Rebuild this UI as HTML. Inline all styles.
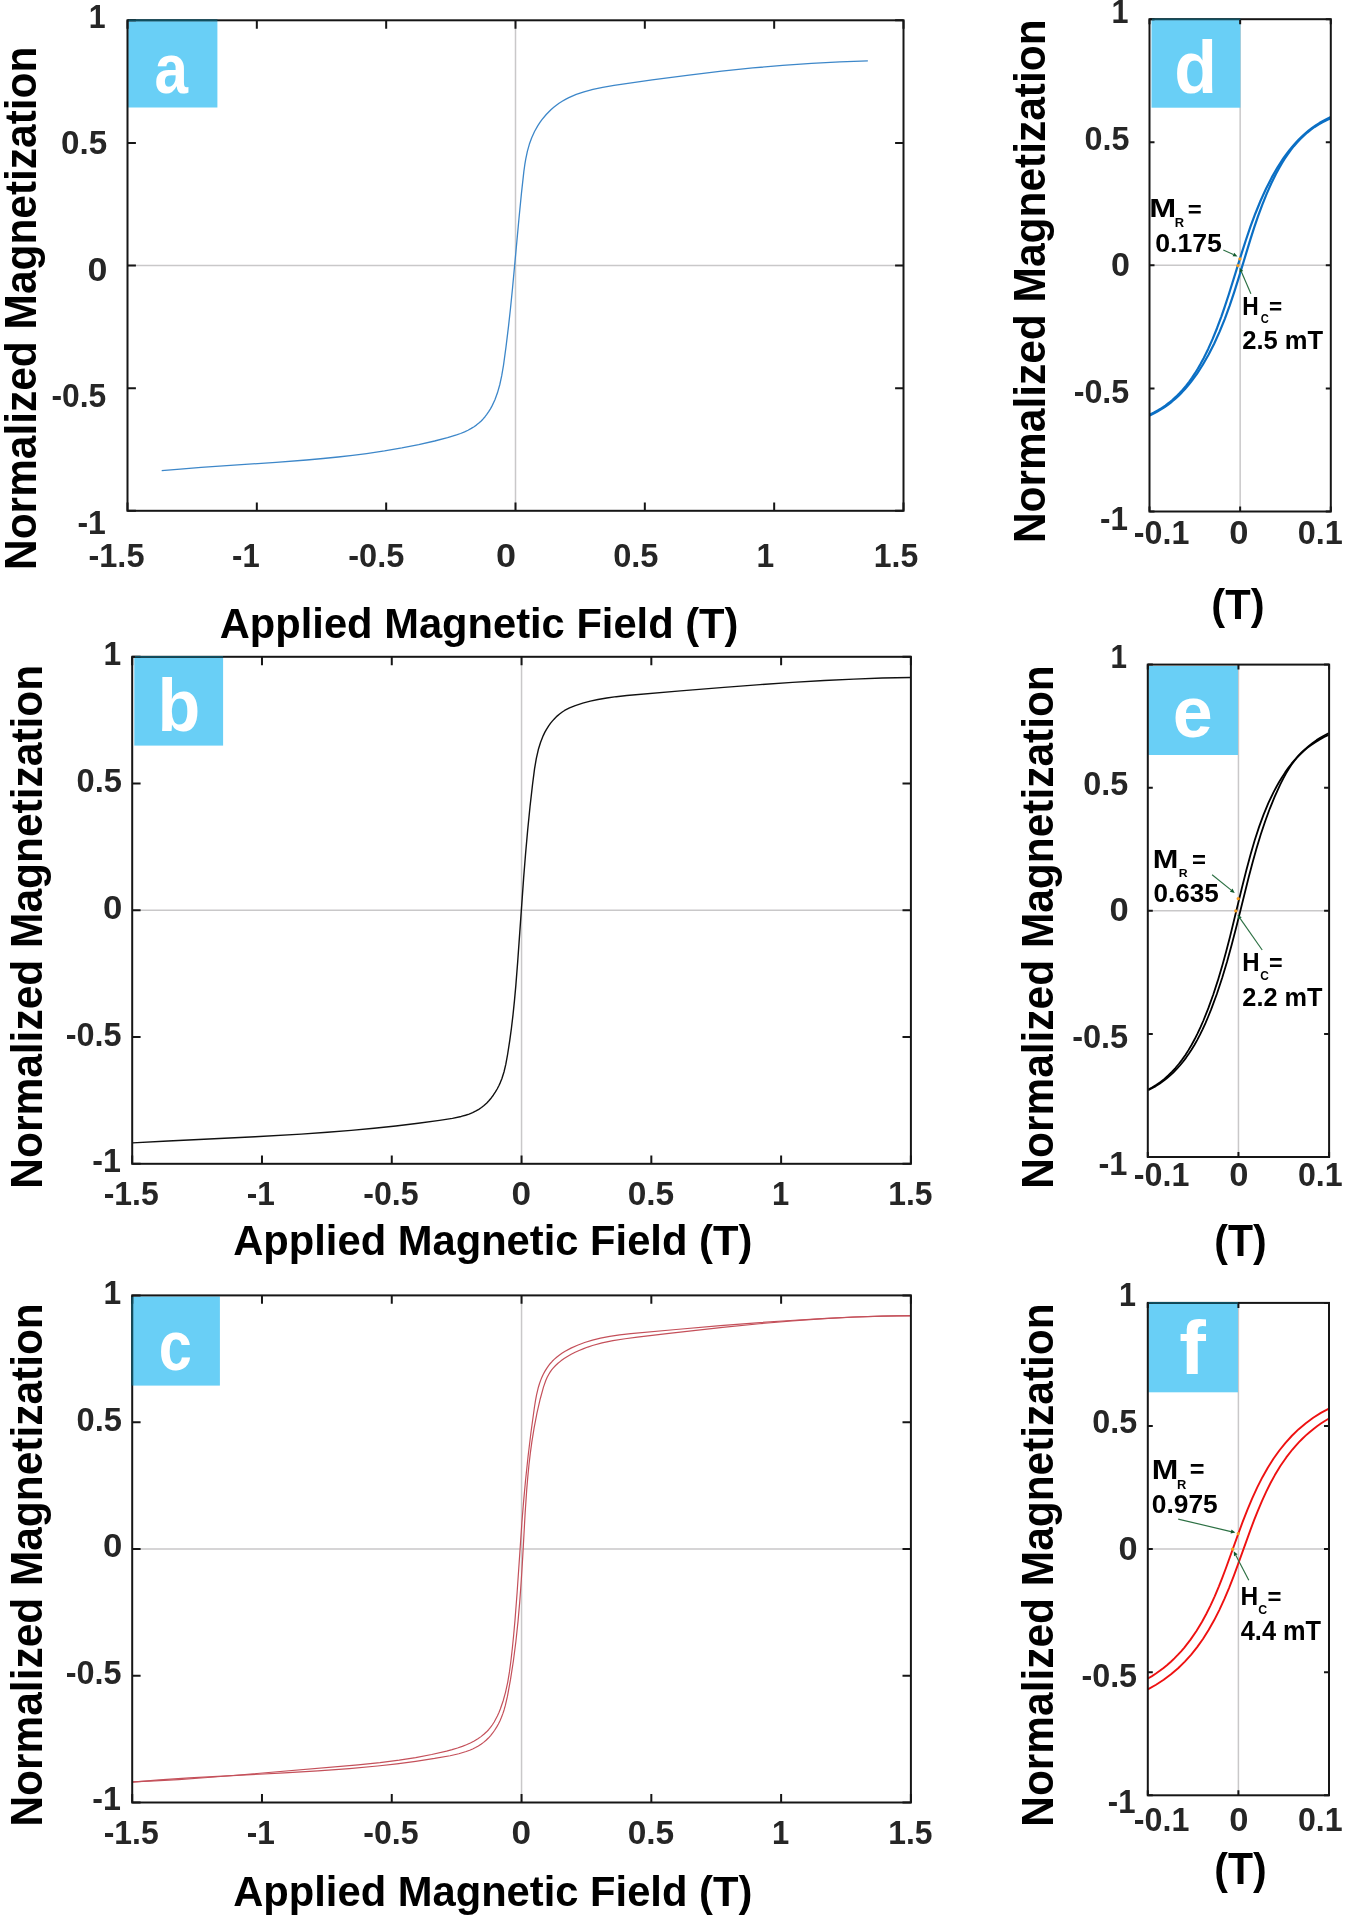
<!DOCTYPE html>
<html><head><meta charset="utf-8"><style>
html,body{margin:0;padding:0;background:#fff;}
svg{display:block;will-change:transform;}
text{font-kerning:none;font-variant-ligatures:none;}
</style></head><body>
<svg width="1345" height="1917" viewBox="0 0 1345 1917" font-family="Liberation Sans, sans-serif" font-weight="bold">
<rect width="1345" height="1917" fill="#fff"/>
<path d="M127.50,265.55H903.50M515.50,20.30V510.80" stroke="#c9c8c9" stroke-width="1.5" fill="none"/>
<path d="M132.20,910.30H910.90M521.55,656.80V1163.80" stroke="#c9c8c9" stroke-width="1.5" fill="none"/>
<path d="M132.20,1548.95H910.90M521.55,1295.40V1802.50" stroke="#c9c8c9" stroke-width="1.5" fill="none"/>
<path d="M1149.50,265.35H1330.80M1240.15,19.20V511.50" stroke="#c9c8c9" stroke-width="1.5" fill="none"/>
<path d="M1147.80,910.80H1329.10M1238.45,664.60V1157.00" stroke="#c9c8c9" stroke-width="1.5" fill="none"/>
<path d="M1147.80,1549.10H1329.00M1238.40,1302.90V1795.30" stroke="#c9c8c9" stroke-width="1.5" fill="none"/>
<path d="M161.71,470.71 L180.22,469.03 L201.15,467.38 L276.03,462.31 L306.60,459.98 L323.08,458.52 L338.09,457.00 L352.61,455.35 L366.63,453.54 L384.50,450.90 L401.87,447.91 L418.73,444.58 L434.61,441.00 L447.57,437.70 L456.50,434.98 L460.59,433.49 L464.58,431.84 L468.00,430.22 L471.30,428.42 L474.07,426.70 L476.35,425.10 L478.89,423.07 L480.95,421.20 L482.91,419.19 L485.06,416.71 L486.79,414.46 L488.69,411.71 L490.45,408.84 L492.07,405.88 L494.93,399.71 L497.46,392.83 L499.76,384.75 L501.68,375.98 L503.52,365.07 L505.97,347.20 L508.47,326.63 L510.50,308.23 L512.54,288.03 L518.95,218.81 L521.44,193.40 L523.84,171.63 L524.80,164.72 L525.78,158.84 L527.42,151.12 L529.40,144.06 L531.71,137.67 L534.53,131.51 L537.86,125.62 L539.97,122.40 L541.95,119.67 L546.23,114.51 L550.91,109.77 L553.76,107.27 L556.36,105.21 L559.03,103.29 L562.20,101.25 L565.46,99.36 L568.82,97.64 L572.26,96.05 L576.23,94.43 L583.98,91.77 L592.96,89.35 L602.67,87.29 L614.05,85.36 L652.12,79.96 L689.01,75.11 L721.66,71.22 L752.77,67.97 L782.53,65.34 L811.55,63.29 L839.96,61.79 L867.85,60.85" stroke="#3d87c9" stroke-width="1.3" fill="none" stroke-linejoin="round" stroke-linecap="butt" />
<path d="M132.65,1142.88 L168.11,1141.00 L255.13,1136.75 L301.21,1134.10 L327.30,1132.29 L351.19,1130.37 L374.02,1128.27 L395.78,1125.96 L418.17,1123.26 L439.52,1120.34 L452.44,1118.32 L461.22,1116.45 L465.48,1115.26 L469.10,1114.04 L472.61,1112.62 L476.00,1110.97 L478.78,1109.35 L481.46,1107.53 L484.01,1105.51 L486.83,1102.92 L489.10,1100.51 L491.25,1097.94 L493.27,1095.24 L495.44,1091.94 L497.16,1089.00 L498.98,1085.46 L500.39,1082.36 L501.85,1078.68 L504.05,1071.73 L505.84,1064.13 L507.63,1054.25 L509.77,1040.44 L511.42,1028.24 L513.00,1014.87 L514.44,1000.92 L515.76,986.38 L517.73,961.21 L523.64,877.91 L525.63,852.98 L527.66,830.20 L530.01,806.73 L532.56,784.21 L534.54,768.93 L536.33,758.30 L538.33,749.57 L540.60,742.19 L543.24,735.60 L544.90,732.18 L546.48,729.33 L548.51,726.10 L550.42,723.43 L552.49,720.87 L554.71,718.42 L557.08,716.12 L559.59,713.97 L562.26,711.99 L564.58,710.49 L569.52,707.90 L575.25,705.58 L582.73,703.15 L590.31,701.13 L597.96,699.48 L606.78,697.96 L616.22,696.68 L626.83,695.56 L680.51,690.92 L723.99,687.34 L760.17,684.58 L792.46,682.37 L824.22,680.50 L853.80,679.09 L882.32,678.07 L910.37,677.45" stroke="#111111" stroke-width="1.4" fill="none" stroke-linejoin="round" stroke-linecap="butt" />
<path d="M132.22,1781.91 L154.82,1780.90 L178.59,1779.54 L204.62,1777.76 L233.45,1775.52 L358.09,1764.78 L380.00,1762.55 L399.19,1760.12 L415.67,1757.54 L431.66,1754.51 L446.60,1751.10 L452.09,1749.63 L457.50,1748.00 L462.27,1746.35 L466.39,1744.73 L470.38,1742.93 L474.23,1740.94 L477.91,1738.74 L480.98,1736.62 L483.88,1734.31 L486.61,1731.80 L488.80,1729.47 L490.51,1727.40 L492.42,1724.77 L494.19,1721.99 L497.35,1716.08 L498.97,1712.47 L500.44,1708.77 L503.18,1700.73 L505.56,1692.09 L507.69,1682.30 L509.44,1671.90 L510.77,1662.01 L512.28,1648.79 L513.67,1635.00 L515.00,1620.09 L517.12,1592.43 L521.87,1522.82 L523.61,1501.37 L525.48,1481.04 L528.08,1456.29 L530.95,1432.55 L534.46,1406.99 L535.52,1400.31 L536.56,1394.79 L538.38,1387.20 L539.52,1383.49 L540.63,1380.36 L541.89,1377.29 L543.29,1374.30 L544.85,1371.39 L546.56,1368.58 L548.43,1365.89 L550.10,1363.74 L552.26,1361.29 L554.18,1359.36 L556.62,1357.20 L559.21,1355.18 L561.90,1353.30 L564.70,1351.54 L570.98,1348.14 L577.47,1345.21 L584.63,1342.54 L592.49,1340.15 L600.51,1338.20 L609.76,1336.43 L619.69,1334.95 L630.84,1333.66 L676.05,1329.52 L720.29,1325.70 L756.61,1322.84 L790.14,1320.51 L822.07,1318.63 L852.45,1317.21 L881.89,1316.22 L910.43,1315.65" stroke="#c4505a" stroke-width="1.2" fill="none" stroke-linejoin="round" stroke-linecap="butt" />
<path d="M132.67,1782.13 L159.40,1779.94 L189.36,1777.94 L217.57,1776.36 L284.32,1772.96 L317.94,1770.95 L349.36,1768.62 L377.52,1765.98 L396.87,1763.79 L415.70,1761.31 L434.57,1758.45 L450.11,1755.73 L458.81,1753.75 L466.16,1751.55 L469.71,1750.23 L472.67,1748.96 L475.55,1747.55 L478.34,1746.00 L481.02,1744.28 L483.60,1742.38 L486.07,1740.30 L488.41,1738.03 L490.62,1735.58 L492.71,1732.98 L494.65,1730.24 L496.76,1726.91 L498.40,1723.95 L500.14,1720.41 L501.47,1717.32 L502.86,1713.66 L504.07,1709.95 L505.29,1705.67 L507.42,1696.43 L510.53,1679.42 L513.41,1660.75 L515.89,1641.51 L518.05,1621.15 L519.78,1601.32 L521.33,1579.80 L522.62,1558.81 L525.15,1512.85 L526.72,1489.60 L527.79,1476.88 L528.98,1464.73 L530.33,1453.16 L531.82,1442.16 L534.20,1427.34 L536.95,1413.13 L540.22,1398.98 L543.46,1387.09 L545.87,1380.31 L547.19,1377.32 L548.69,1374.44 L550.10,1372.15 L551.65,1369.95 L553.36,1367.87 L555.58,1365.50 L557.98,1363.28 L560.96,1360.85 L564.11,1358.60 L567.37,1356.51 L571.21,1354.31 L575.13,1352.29 L579.11,1350.44 L583.67,1348.57 L587.79,1347.06 L592.48,1345.52 L602.06,1342.94 L612.93,1340.67 L625.08,1338.74 L637.34,1337.16 L669.09,1333.47 L722.63,1327.47 L759.42,1323.73 L792.34,1320.84 L824.24,1318.55 L854.07,1316.99 L882.42,1316.08 L896.40,1315.87 L910.44,1315.81" stroke="#c4505a" stroke-width="1.2" fill="none" stroke-linejoin="round" stroke-linecap="butt" />
<path d="M1149.51,414.67 L1153.60,412.70 L1157.69,410.48 L1161.61,408.09 L1165.36,405.54 L1169.09,402.73 L1172.66,399.77 L1176.07,396.66 L1179.45,393.29 L1182.79,389.65 L1185.97,385.87 L1189.11,381.83 L1192.10,377.65 L1195.04,373.22 L1197.93,368.53 L1200.77,363.58 L1203.64,358.22 L1208.22,348.90 L1212.67,338.90 L1217.00,328.24 L1221.34,316.58 L1224.95,306.17 L1228.78,294.49 L1240.98,255.34 L1245.67,240.76 L1250.54,226.48 L1255.28,213.71 L1260.55,200.79 L1266.02,188.74 L1271.78,177.41 L1277.57,167.30 L1283.31,158.44 L1286.22,154.37 L1289.25,150.40 L1292.30,146.67 L1295.35,143.19 L1298.53,139.82 L1301.84,136.57 L1305.14,133.57 L1308.58,130.69 L1312.14,127.94 L1315.70,125.44 L1319.38,123.07 L1323.03,120.93 L1326.81,118.92 L1330.72,117.06" stroke="#0b6fc4" stroke-width="2.2" fill="none" stroke-linejoin="round" stroke-linecap="butt" />
<path d="M1149.77,415.41 L1153.64,413.56 L1157.39,411.56 L1161.01,409.42 L1164.66,407.05 L1168.18,404.54 L1171.72,401.78 L1175.13,398.89 L1178.41,395.87 L1181.69,392.61 L1184.85,389.23 L1188.00,385.59 L1191.03,381.85 L1196.94,373.79 L1202.77,364.77 L1208.65,354.51 L1214.27,343.48 L1219.62,331.67 L1224.83,318.80 L1229.49,306.09 L1234.21,292.05 L1238.76,277.58 L1250.63,238.58 L1254.38,226.93 L1257.98,216.39 L1262.33,204.60 L1266.76,193.63 L1271.35,183.30 L1276.03,173.79 L1278.92,168.40 L1281.79,163.43 L1284.72,158.72 L1287.70,154.27 L1290.74,150.10 L1293.82,146.19 L1297.06,142.42 L1300.35,138.93 L1303.79,135.59 L1307.27,132.52 L1310.92,129.62 L1314.59,126.98 L1318.43,124.52 L1322.44,122.23 L1326.46,120.21 L1330.65,118.36" stroke="#0b6fc4" stroke-width="2.2" fill="none" stroke-linejoin="round" stroke-linecap="butt" />
<path d="M1148.18,1089.66 L1152.44,1087.32 L1156.51,1084.78 L1160.56,1081.92 L1164.41,1078.86 L1168.22,1075.48 L1171.84,1071.92 L1175.42,1068.03 L1178.80,1063.97 L1182.14,1059.59 L1185.42,1054.90 L1188.62,1049.89 L1191.66,1044.75 L1194.62,1039.30 L1197.61,1033.38 L1200.52,1027.17 L1203.43,1020.50 L1208.36,1008.13 L1213.27,994.51 L1217.88,980.40 L1222.45,965.04 L1226.16,951.58 L1230.01,936.68 L1241.87,888.07 L1246.27,870.59 L1250.63,854.32 L1254.71,840.32 L1259.08,826.88 L1263.57,814.63 L1268.32,803.22 L1273.33,792.65 L1276.19,787.22 L1279.10,782.06 L1282.05,777.17 L1285.17,772.39 L1288.34,767.89 L1291.54,763.67 L1294.78,759.74 L1298.17,755.94 L1301.59,752.43 L1305.16,749.06 L1308.90,745.84 L1312.66,742.91 L1316.57,740.13 L1320.66,737.52 L1324.74,735.19 L1328.99,733.03" stroke="#000000" stroke-width="1.8" fill="none" stroke-linejoin="round" stroke-linecap="butt" />
<path d="M1148.19,1090.25 L1152.00,1088.30 L1155.85,1086.10 L1159.55,1083.74 L1163.27,1081.11 L1166.83,1078.33 L1170.25,1075.40 L1173.51,1072.34 L1176.78,1068.99 L1179.91,1065.51 L1183.02,1061.74 L1185.99,1057.84 L1188.82,1053.83 L1191.63,1049.53 L1194.41,1044.95 L1197.16,1040.08 L1199.77,1035.12 L1202.61,1029.32 L1205.48,1023.06 L1208.27,1016.52 L1211.15,1009.36 L1216.85,993.97 L1222.30,977.48 L1227.04,961.69 L1231.90,944.04 L1236.57,925.91 L1248.74,877.09 L1252.65,862.28 L1256.34,849.09 L1260.73,834.58 L1265.18,821.21 L1269.74,808.79 L1274.49,797.15 L1277.32,790.77 L1280.30,784.46 L1283.34,778.41 L1286.07,773.38 L1288.68,769.00 L1291.25,765.09 L1293.90,761.47 L1296.75,758.00 L1299.96,754.53 L1303.38,751.25 L1307.01,748.15 L1310.83,745.23 L1314.98,742.39 L1319.45,739.64 L1324.22,737.02 L1329.08,734.63" stroke="#000000" stroke-width="1.8" fill="none" stroke-linejoin="round" stroke-linecap="butt" />
<path d="M1147.91,1678.56 L1152.00,1676.09 L1155.95,1673.51 L1159.75,1670.83 L1163.56,1667.93 L1167.22,1664.93 L1170.88,1661.71 L1174.39,1658.38 L1177.77,1654.95 L1181.13,1651.30 L1184.35,1647.55 L1190.51,1639.65 L1196.45,1630.99 L1202.06,1621.73 L1206.39,1613.79 L1210.58,1605.37 L1214.71,1596.33 L1218.91,1586.36 L1222.35,1577.66 L1226.07,1567.77 L1237.97,1534.59 L1242.65,1521.92 L1247.48,1509.54 L1252.09,1498.57 L1257.24,1487.37 L1262.43,1477.17 L1267.79,1467.69 L1273.42,1458.80 L1279.32,1450.50 L1285.49,1442.81 L1291.91,1435.75 L1298.68,1429.19 L1305.82,1423.16 L1313.18,1417.76 L1320.87,1412.89 L1328.91,1408.56" stroke="#ee1111" stroke-width="1.9" fill="none" stroke-linejoin="round" stroke-linecap="butt" />
<path d="M1147.84,1689.36 L1156.03,1684.77 L1163.70,1679.78 L1171.02,1674.29 L1178.12,1668.21 L1184.85,1661.62 L1191.22,1654.55 L1197.35,1646.87 L1203.12,1638.71 L1208.74,1629.82 L1214.10,1620.34 L1219.29,1610.12 L1224.45,1598.89 L1229.01,1588.05 L1233.80,1575.80 L1238.37,1563.43 L1250.45,1529.85 L1254.19,1519.93 L1257.71,1511.04 L1261.92,1501.06 L1266.13,1491.85 L1270.40,1483.27 L1274.73,1475.33 L1280.34,1466.07 L1286.27,1457.42 L1292.42,1449.54 L1295.64,1445.79 L1298.99,1442.15 L1302.37,1438.72 L1305.89,1435.40 L1309.55,1432.17 L1313.22,1429.17 L1317.04,1426.27 L1320.86,1423.57 L1324.82,1420.98 L1328.94,1418.50" stroke="#ee1111" stroke-width="1.9" fill="none" stroke-linejoin="round" stroke-linecap="butt" />
<rect x="128.10" y="19.30" width="89.30" height="88.20" fill="#69cff6"/>
<text transform="translate(154.44,92.81) scale(0.8479,1)" font-size="71.00" fill="#fff">a</text>
<rect x="134.30" y="656.40" width="88.80" height="89.20" fill="#69cff6"/>
<text transform="translate(157.58,730.78) scale(0.9439,1)" font-size="74.21" fill="#fff">b</text>
<rect x="131.40" y="1296.40" width="88.50" height="89.20" fill="#69cff6"/>
<text transform="translate(158.78,1370.12) scale(0.8482,1)" font-size="70.09" fill="#fff">c</text>
<rect x="1151.50" y="18.60" width="88.90" height="89.10" fill="#69cff6"/>
<text transform="translate(1174.33,92.67) scale(0.9361,1)" font-size="74.62" fill="#fff">d</text>
<rect x="1148.20" y="666.00" width="89.80" height="89.00" fill="#69cff6"/>
<text transform="translate(1172.79,737.09) scale(0.9941,1)" font-size="72.28" fill="#fff">e</text>
<rect x="1148.20" y="1303.20" width="89.80" height="89.10" fill="#69cff6"/>
<text transform="translate(1179.33,1374.20) scale(1.0566,1)" font-size="75.63" fill="#fff">f</text>
<rect x="127.50" y="20.30" width="776.00" height="490.50" fill="none" stroke="#161616" stroke-width="2.0"/>
<path d="M127.50,510.80v-8.40M127.50,20.30v8.40M256.83,510.80v-8.40M256.83,20.30v8.40M386.17,510.80v-8.40M386.17,20.30v8.40M515.50,510.80v-8.40M515.50,20.30v8.40M644.83,510.80v-8.40M644.83,20.30v8.40M774.17,510.80v-8.40M774.17,20.30v8.40M903.50,510.80v-8.40M903.50,20.30v8.40M127.50,510.80h8.40M903.50,510.80h-8.40M127.50,388.18h8.40M903.50,388.18h-8.40M127.50,265.55h8.40M903.50,265.55h-8.40M127.50,142.93h8.40M903.50,142.93h-8.40M127.50,20.30h8.40M903.50,20.30h-8.40" stroke="#161616" stroke-width="2.0" fill="none"/>
<rect x="132.20" y="656.80" width="778.70" height="507.00" fill="none" stroke="#161616" stroke-width="2.0"/>
<path d="M132.20,1163.80v-8.40M132.20,656.80v8.40M261.98,1163.80v-8.40M261.98,656.80v8.40M391.77,1163.80v-8.40M391.77,656.80v8.40M521.55,1163.80v-8.40M521.55,656.80v8.40M651.33,1163.80v-8.40M651.33,656.80v8.40M781.12,1163.80v-8.40M781.12,656.80v8.40M910.90,1163.80v-8.40M910.90,656.80v8.40M132.20,1163.80h8.40M910.90,1163.80h-8.40M132.20,1037.05h8.40M910.90,1037.05h-8.40M132.20,910.30h8.40M910.90,910.30h-8.40M132.20,783.55h8.40M910.90,783.55h-8.40M132.20,656.80h8.40M910.90,656.80h-8.40" stroke="#161616" stroke-width="2.0" fill="none"/>
<rect x="132.20" y="1295.40" width="778.70" height="507.10" fill="none" stroke="#161616" stroke-width="2.0"/>
<path d="M132.20,1802.50v-8.40M132.20,1295.40v8.40M261.98,1802.50v-8.40M261.98,1295.40v8.40M391.77,1802.50v-8.40M391.77,1295.40v8.40M521.55,1802.50v-8.40M521.55,1295.40v8.40M651.33,1802.50v-8.40M651.33,1295.40v8.40M781.12,1802.50v-8.40M781.12,1295.40v8.40M910.90,1802.50v-8.40M910.90,1295.40v8.40M132.20,1802.50h8.40M910.90,1802.50h-8.40M132.20,1675.72h8.40M910.90,1675.72h-8.40M132.20,1548.95h8.40M910.90,1548.95h-8.40M132.20,1422.18h8.40M910.90,1422.18h-8.40M132.20,1295.40h8.40M910.90,1295.40h-8.40" stroke="#161616" stroke-width="2.0" fill="none"/>
<rect x="1149.50" y="19.20" width="181.30" height="492.30" fill="none" stroke="#161616" stroke-width="2.0"/>
<path d="M1149.50,511.50v-5.00M1149.50,19.20v5.00M1240.15,511.50v-5.00M1240.15,19.20v5.00M1330.80,511.50v-5.00M1330.80,19.20v5.00M1149.50,511.50h5.00M1330.80,511.50h-5.00M1149.50,388.43h5.00M1330.80,388.43h-5.00M1149.50,265.35h5.00M1330.80,265.35h-5.00M1149.50,142.27h5.00M1330.80,142.27h-5.00M1149.50,19.20h5.00M1330.80,19.20h-5.00" stroke="#161616" stroke-width="2.0" fill="none"/>
<rect x="1147.80" y="664.60" width="181.30" height="492.40" fill="none" stroke="#161616" stroke-width="2.0"/>
<path d="M1147.80,1157.00v-5.00M1147.80,664.60v5.00M1238.45,1157.00v-5.00M1238.45,664.60v5.00M1329.10,1157.00v-5.00M1329.10,664.60v5.00M1147.80,1157.00h5.00M1329.10,1157.00h-5.00M1147.80,1033.90h5.00M1329.10,1033.90h-5.00M1147.80,910.80h5.00M1329.10,910.80h-5.00M1147.80,787.70h5.00M1329.10,787.70h-5.00M1147.80,664.60h5.00M1329.10,664.60h-5.00" stroke="#161616" stroke-width="2.0" fill="none"/>
<rect x="1147.80" y="1302.90" width="181.20" height="492.40" fill="none" stroke="#161616" stroke-width="2.0"/>
<path d="M1147.80,1795.30v-5.00M1147.80,1302.90v5.00M1238.40,1795.30v-5.00M1238.40,1302.90v5.00M1329.00,1795.30v-5.00M1329.00,1302.90v5.00M1147.80,1795.30h5.00M1329.00,1795.30h-5.00M1147.80,1672.20h5.00M1329.00,1672.20h-5.00M1147.80,1549.10h5.00M1329.00,1549.10h-5.00M1147.80,1426.00h5.00M1329.00,1426.00h-5.00M1147.80,1302.90h5.00M1329.00,1302.90h-5.00" stroke="#161616" stroke-width="2.0" fill="none"/>
<path d="M128.6,20.30H217.4M135,656.80H223.1M1152,19.20H1240.4M1148.8,1302.90H1238" stroke="#0f4f60" stroke-width="1.6" fill="none"/>
<path d="M132.20,1297H132.20V1385.6" stroke="#0f4f60" stroke-width="1.6" fill="none"/>
<text transform="translate(88.69,27.50) scale(0.9295,1)" font-size="32.60" fill="#262626">1</text>
<text transform="translate(61.09,153.98) scale(1.0180,1)" font-size="32.60" fill="#262626">0.5</text>
<text transform="translate(87.59,280.68) scale(1.0965,1)" font-size="32.60" fill="#262626">0</text>
<text transform="translate(51.46,407.28) scale(0.9760,1)" font-size="32.60" fill="#262626">-0.5</text>
<text transform="translate(77.45,534.00) scale(0.9811,1)" font-size="32.60" fill="#262626">-1</text>
<text transform="translate(88.43,566.68) scale(0.9983,1)" font-size="32.60" fill="#262626">-1.5</text>
<text transform="translate(232.09,566.80) scale(0.9513,1)" font-size="32.60" fill="#262626">-1</text>
<text transform="translate(348.23,566.68) scale(0.9983,1)" font-size="32.60" fill="#262626">-0.5</text>
<text transform="translate(495.88,566.68) scale(1.1029,1)" font-size="32.60" fill="#262626">0</text>
<text transform="translate(613.21,566.68) scale(0.9995,1)" font-size="32.60" fill="#262626">0.5</text>
<text transform="translate(756.40,566.80) scale(0.9756,1)" font-size="32.60" fill="#262626">1</text>
<text transform="translate(873.79,566.68) scale(0.9798,1)" font-size="32.60" fill="#262626">1.5</text>
<text transform="translate(103.40,665.40) scale(0.9756,1)" font-size="32.60" fill="#262626">1</text>
<text transform="translate(76.51,792.18) scale(1.0018,1)" font-size="32.60" fill="#262626">0.5</text>
<text transform="translate(102.93,918.78) scale(1.0642,1)" font-size="32.60" fill="#262626">0</text>
<text transform="translate(65.73,1045.68) scale(0.9946,1)" font-size="32.60" fill="#262626">-0.5</text>
<text transform="translate(92.24,1171.80) scale(0.9886,1)" font-size="32.60" fill="#262626">-1</text>
<text transform="translate(103.40,1304.00) scale(0.9756,1)" font-size="32.60" fill="#262626">1</text>
<text transform="translate(76.51,1430.78) scale(1.0018,1)" font-size="32.60" fill="#262626">0.5</text>
<text transform="translate(102.93,1557.38) scale(1.0642,1)" font-size="32.60" fill="#262626">0</text>
<text transform="translate(65.73,1684.28) scale(0.9946,1)" font-size="32.60" fill="#262626">-0.5</text>
<text transform="translate(92.24,1810.40) scale(0.9886,1)" font-size="32.60" fill="#262626">-1</text>
<text transform="translate(103.65,1204.78) scale(0.9797,1)" font-size="32.60" fill="#262626">-1.5</text>
<text transform="translate(246.76,1204.80) scale(0.9699,1)" font-size="32.60" fill="#262626">-1</text>
<text transform="translate(363.25,1204.78) scale(0.9853,1)" font-size="32.60" fill="#262626">-0.5</text>
<text transform="translate(511.51,1204.78) scale(1.0771,1)" font-size="32.60" fill="#262626">0</text>
<text transform="translate(627.68,1204.78) scale(1.0273,1)" font-size="32.60" fill="#262626">0.5</text>
<text transform="translate(771.95,1204.80) scale(0.9493,1)" font-size="32.60" fill="#262626">1</text>
<text transform="translate(888.19,1204.78) scale(0.9774,1)" font-size="32.60" fill="#262626">1.5</text>
<text transform="translate(103.65,1843.78) scale(0.9797,1)" font-size="32.60" fill="#262626">-1.5</text>
<text transform="translate(246.76,1843.80) scale(0.9699,1)" font-size="32.60" fill="#262626">-1</text>
<text transform="translate(363.25,1843.78) scale(0.9853,1)" font-size="32.60" fill="#262626">-0.5</text>
<text transform="translate(511.51,1843.78) scale(1.0771,1)" font-size="32.60" fill="#262626">0</text>
<text transform="translate(627.68,1843.78) scale(1.0273,1)" font-size="32.60" fill="#262626">0.5</text>
<text transform="translate(771.95,1843.80) scale(0.9493,1)" font-size="32.60" fill="#262626">1</text>
<text transform="translate(888.19,1843.78) scale(0.9774,1)" font-size="32.60" fill="#262626">1.5</text>
<text transform="translate(1111.58,22.70) scale(0.9361,1)" font-size="32.60" fill="#262626">1</text>
<text transform="translate(1084.62,149.68) scale(0.9902,1)" font-size="32.60" fill="#262626">0.5</text>
<text transform="translate(1111.05,276.48) scale(1.0449,1)" font-size="32.60" fill="#262626">0</text>
<text transform="translate(1073.64,403.18) scale(0.9909,1)" font-size="32.60" fill="#262626">-0.5</text>
<text transform="translate(1099.97,529.80) scale(0.9625,1)" font-size="32.60" fill="#262626">-1</text>
<text transform="translate(1133.84,544.38) scale(0.9890,1)" font-size="32.60" fill="#262626">-0.1</text>
<text transform="translate(1229.14,544.38) scale(1.0578,1)" font-size="32.60" fill="#262626">0</text>
<text transform="translate(1297.72,544.38) scale(0.9949,1)" font-size="32.60" fill="#262626">0.1</text>
<text transform="translate(1110.53,668.10) scale(0.9097,1)" font-size="32.60" fill="#262626">1</text>
<text transform="translate(1083.22,794.68) scale(0.9925,1)" font-size="32.60" fill="#262626">0.5</text>
<text transform="translate(1109.54,921.48) scale(1.0578,1)" font-size="32.60" fill="#262626">0</text>
<text transform="translate(1072.13,1048.38) scale(0.9983,1)" font-size="32.60" fill="#262626">-0.5</text>
<text transform="translate(1098.43,1174.80) scale(0.9998,1)" font-size="32.60" fill="#262626">-1</text>
<text transform="translate(1133.84,1185.98) scale(0.9890,1)" font-size="32.60" fill="#262626">-0.1</text>
<text transform="translate(1229.14,1185.98) scale(1.0578,1)" font-size="32.60" fill="#262626">0</text>
<text transform="translate(1297.93,1185.98) scale(0.9856,1)" font-size="32.60" fill="#262626">0.1</text>
<text transform="translate(1119.08,1306.00) scale(0.9361,1)" font-size="32.60" fill="#262626">1</text>
<text transform="translate(1092.22,1433.48) scale(0.9902,1)" font-size="32.60" fill="#262626">0.5</text>
<text transform="translate(1118.54,1560.18) scale(1.0513,1)" font-size="32.60" fill="#262626">0</text>
<text transform="translate(1081.44,1686.88) scale(0.9909,1)" font-size="32.60" fill="#262626">-0.5</text>
<text transform="translate(1107.78,1813.30) scale(0.9550,1)" font-size="32.60" fill="#262626">-1</text>
<text transform="translate(1133.84,1831.38) scale(0.9890,1)" font-size="32.60" fill="#262626">-0.1</text>
<text transform="translate(1229.14,1831.38) scale(1.0578,1)" font-size="32.60" fill="#262626">0</text>
<text transform="translate(1297.93,1831.38) scale(0.9856,1)" font-size="32.60" fill="#262626">0.1</text>
<text transform="translate(35.80,569.94) rotate(-90) scale(0.9733,1)" font-size="43.61" fill="#000">Normalized Magnetization</text>
<text transform="translate(41.80,1188.74) rotate(-90) scale(0.9742,1)" font-size="43.61" fill="#000">Normalized Magnetization</text>
<text transform="translate(41.70,1826.54) rotate(-90) scale(0.9731,1)" font-size="43.61" fill="#000">Normalized Magnetization</text>
<text transform="translate(1044.60,543.04) rotate(-90) scale(0.9738,1)" font-size="43.61" fill="#000">Normalized Magnetization</text>
<text transform="translate(1052.60,1188.64) rotate(-90) scale(0.9736,1)" font-size="43.61" fill="#000">Normalized Magnetization</text>
<text transform="translate(1052.60,1826.74) rotate(-90) scale(0.9736,1)" font-size="43.61" fill="#000">Normalized Magnetization</text>
<text transform="translate(219.76,637.50) scale(0.9625,1)" font-size="43.31" fill="#000">Applied Magnetic Field (T)</text>
<text transform="translate(233.16,1255.40) scale(0.9634,1)" font-size="43.31" fill="#000">Applied Magnetic Field (T)</text>
<text transform="translate(233.16,1905.80) scale(0.9634,1)" font-size="43.31" fill="#000">Applied Magnetic Field (T)</text>
<text transform="translate(1211.32,618.70) scale(0.9661,1)" font-size="43.17" fill="#000">(T)</text>
<text transform="translate(1214.36,1255.50) scale(0.9316,1)" font-size="44.04" fill="#000">(T)</text>
<text transform="translate(1214.36,1884.20) scale(0.9440,1)" font-size="43.46" fill="#000">(T)</text>
<text transform="translate(1149.14,216.80) scale(1.2635,1)" font-size="25.58" fill="#000">M</text>
<text transform="translate(1174.74,227.00) scale(1.0216,1)" font-size="12.65" fill="#000">R</text>
<text transform="translate(1187.71,216.50) scale(1.0640,1)" font-size="22.49" fill="#000">=</text>
<text transform="translate(1155.14,251.64) scale(1.0053,1)" font-size="26.55" fill="#000">0.175</text>
<text transform="translate(1242.28,315.00) scale(0.8910,1)" font-size="25.58" fill="#000">H</text>
<text transform="translate(1260.74,323.37) scale(0.8593,1)" font-size="12.99" fill="#000">C</text>
<text transform="translate(1269.06,314.00) scale(1.0019,1)" font-size="22.49" fill="#000">=</text>
<text transform="translate(1242.21,349.36) scale(1.0281,1)" font-size="24.86" fill="#000">2.5 mT</text>
<path d="M1223.30,250.00L1233.40,254.55" stroke="#2c7043" stroke-width="1.15" fill="none"/>
<path d="M1237.50,256.40L1232.58,256.37L1234.22,252.73Z" fill="#0f5a2c"/>
<path d="M1250.90,293.80L1241.39,271.83" stroke="#2c7043" stroke-width="1.15" fill="none"/>
<path d="M1239.60,267.70L1243.22,271.03L1239.55,272.62Z" fill="#0f5a2c"/>
<circle cx="1240.00" cy="258.90" r="1.6" fill="#f59a1b"/>
<circle cx="1237.90" cy="265.60" r="1.6" fill="#f59a1b"/>
<text transform="translate(1152.84,867.60) scale(1.1560,1)" font-size="26.60" fill="#000">M</text>
<text transform="translate(1178.78,877.10) scale(1.0437,1)" font-size="11.77" fill="#000">R</text>
<text transform="translate(1192.01,867.56) scale(0.9830,1)" font-size="24.34" fill="#000">=</text>
<text transform="translate(1153.57,901.91) scale(1.0126,1)" font-size="25.79" fill="#000">0.635</text>
<text transform="translate(1242.30,970.80) scale(0.9218,1)" font-size="26.02" fill="#000">H</text>
<text transform="translate(1260.31,980.27) scale(0.9181,1)" font-size="12.99" fill="#000">C</text>
<text transform="translate(1269.03,970.90) scale(0.9481,1)" font-size="24.61" fill="#000">=</text>
<text transform="translate(1242.32,1005.80) scale(0.9665,1)" font-size="26.21" fill="#000">2.2 mT</text>
<path d="M1212.10,874.70L1231.20,890.17" stroke="#2c7043" stroke-width="1.15" fill="none"/>
<path d="M1234.70,893.00L1229.94,891.72L1232.46,888.61Z" fill="#0f5a2c"/>
<path d="M1262.20,950.00L1240.08,918.39" stroke="#2c7043" stroke-width="1.15" fill="none"/>
<path d="M1237.50,914.70L1241.72,917.24L1238.44,919.53Z" fill="#0f5a2c"/>
<circle cx="1238.20" cy="898.70" r="1.6" fill="#f59a1b"/>
<circle cx="1235.70" cy="910.90" r="1.6" fill="#f59a1b"/>
<text transform="translate(1151.67,1478.90) scale(1.1925,1)" font-size="26.74" fill="#000">M</text>
<text transform="translate(1176.94,1488.80) scale(1.0456,1)" font-size="12.35" fill="#000">R</text>
<text transform="translate(1189.85,1478.43) scale(1.0182,1)" font-size="24.87" fill="#000">=</text>
<text transform="translate(1151.76,1513.25) scale(1.0145,1)" font-size="25.99" fill="#000">0.975</text>
<text transform="translate(1240.56,1604.70) scale(0.9310,1)" font-size="26.31" fill="#000">H</text>
<text transform="translate(1258.19,1614.07) scale(0.9534,1)" font-size="12.99" fill="#000">C</text>
<text transform="translate(1267.61,1604.82) scale(0.9938,1)" font-size="24.08" fill="#000">=</text>
<text transform="translate(1240.72,1639.60) scale(0.9496,1)" font-size="26.74" fill="#000">4.4 mT</text>
<path d="M1178.20,1519.10L1231.02,1531.57" stroke="#2c7043" stroke-width="1.15" fill="none"/>
<path d="M1235.40,1532.60L1230.56,1533.51L1231.48,1529.62Z" fill="#0f5a2c"/>
<path d="M1248.80,1580.30L1235.78,1555.29" stroke="#2c7043" stroke-width="1.15" fill="none"/>
<path d="M1233.70,1551.30L1237.55,1554.37L1234.00,1556.22Z" fill="#0f5a2c"/>
<circle cx="1238.20" cy="1533.70" r="1.6" fill="#f59a1b"/>
<circle cx="1232.60" cy="1549.20" r="1.6" fill="#f59a1b"/>
</svg></body></html>
